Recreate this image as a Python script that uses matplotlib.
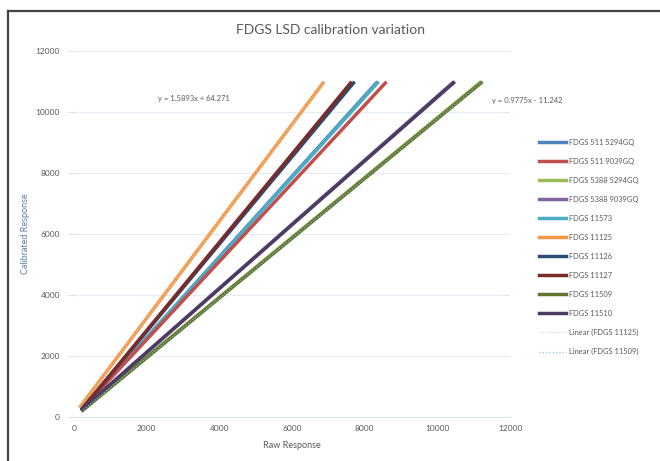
import matplotlib
matplotlib.use("Agg")
import matplotlib.pyplot as plt
from matplotlib.lines import Line2D

plt.rcParams['font.family'] = ['Lato', 'DejaVu Sans']

series_names = ["FDGS 511 5294GQ", "FDGS 511 9039GQ", "FDGS 5388 5294GQ", "FDGS 5388 9039GQ",
                "FDGS 11573", "FDGS 11125", "FDGS 11126", "FDGS 11127", "FDGS 11509", "FDGS 11510"]
series_colors = ["#4F81BD", "#C0504D", "#9BBB59", "#8064A2", "#4BACC6",
                 "#F79646", "#2C4D75", "#772C2A", "#5F7530", "#4D3B62"]
x_start = [200, 200, 200, 200, 200, 150, 200, 200, 200, 200]
y_start = [230, 230, 200, 230, 230, 300, 230, 230, 180, 230]
x_end = [8350, 8600, 11200, 10450, 8380, 6880, 7720, 7640, 11240, 10480]
y_end = [11000, 11000, 11000, 11000, 11000, 11000, 11000, 11000, 11000, 11000]

trend_names = ["Linear (FDGS 11125)", "Linear (FDGS 11509)"]
trend_colors = ["#C9D6C0", "#8EC3E6"]
trend_eqs = ["y = 1.5893x + 64.271", "y = 0.9775x - 11.242"]

x_ticks = [0, 2000, 4000, 6000, 8000, 10000, 12000]
y_ticks = [0, 2000, 4000, 6000, 8000, 10000, 12000]

fig = plt.figure(figsize=(6.6, 4.61), dpi=100)
ax = fig.add_axes([0.112, 0.0954, 0.661, 0.7936])

draw_order = [2, 3, 0, 4, 1, 5, 6, 7, 8, 9]
for i in draw_order:
    ax.plot([x_start[i], x_end[i]], [y_start[i], y_end[i]], color=series_colors[i],
            lw=2.5, solid_capstyle='butt', zorder=3)
# trendlines (dotted, overlaid)
for k, idx in enumerate([5, 8]):
    ax.plot([x_start[idx], x_end[idx]], [y_start[idx], y_end[idx]], color=trend_colors[k],
            lw=0.8, ls=':', zorder=4)

ax.set_xlim(0, 12000)
ax.set_ylim(0, 12000)
ax.set_xticks(x_ticks)
ax.set_yticks(y_ticks)
ax.set_xticklabels([str(v) for v in x_ticks], fontsize=6, color="#595959")
ax.set_yticklabels([str(v) for v in y_ticks], fontsize=6, color="#595959")
ax.tick_params(axis='x', length=0, pad=6)
ax.tick_params(axis='y', length=4, color="#D9E3EE", pad=6)
ax.grid(axis='y', color="#E4EBF3", lw=0.8)
ax.set_axisbelow(True)
for s in ['top', 'right', 'left']:
    ax.spines[s].set_visible(False)
ax.spines['bottom'].set_color("#D9E3EE")

ax.set_xlabel("Raw Response", fontsize=6.5, color="#595959", labelpad=6)
ax.set_ylabel("Calibrated Response", fontsize=6.5, color="#5A7FA6")
ax.yaxis.set_label_coords(-0.10, 0.5)

ax.text(3300, 10440, trend_eqs[0], fontsize=5.5, color="#595959", ha='center', va='center')
ax.text(11500, 10390, trend_eqs[1], fontsize=5.5, color="#595959", ha='left', va='center',
        clip_on=False)

fig.text(0.5, 0.936, "FDGS LSD calibration variation", fontsize=10, color="#595959",
         ha='center', va='center')

leg_handles = [Line2D([0], [0], color=series_colors[i], lw=2.5) for i in range(10)]
leg_handles += [Line2D([0], [0], color=c, lw=0.9, ls=':') for c in trend_colors]
leg = fig.legend(leg_handles, series_names + trend_names, loc='upper left',
                 bbox_to_anchor=(0.812, 0.705), frameon=False, fontsize=5.4,
                 handlelength=3.6, handletextpad=0.35, labelspacing=1.6,
                 borderaxespad=0)
for t in leg.get_texts():
    t.set_color("#595959")

# outer frame (top and left edges visible)
fig.add_artist(Line2D([0.012, 0.012], [0.0, 0.976], transform=fig.transFigure,
                      color="#444444", lw=1.6))
fig.add_artist(Line2D([0.012, 1.0], [0.976, 0.976], transform=fig.transFigure,
                      color="#444444", lw=1.6))

fig.savefig("out.png", dpi=100)
